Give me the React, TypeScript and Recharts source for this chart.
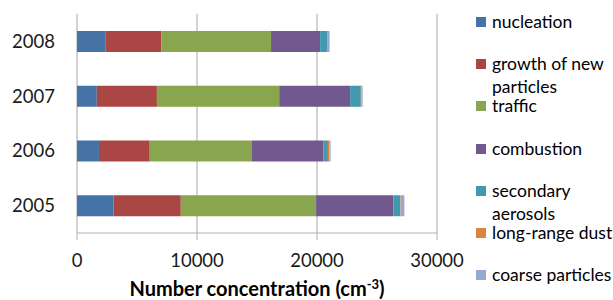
import React from 'react';
import { Bar, BarChart, CartesianGrid, Legend, XAxis, YAxis } from 'recharts';

// Years and the seven source contributions (number concentration, cm-3)
const years = ['2005', '2006', '2007', '2008'];
const nucleation = [3050, 1830, 1650, 2360];
const growth = [5600, 4230, 5010, 4680];
const traffic = [11280, 8520, 10190, 9130];
const combustion = [6430, 5960, 5910, 4090];
const secondary = [580, 370, 890, 620];
const dust = [40, 110, 70, 20];
const coarse = [300, 110, 80, 150];
const xTicks = [0, 10000, 20000, 30000];
const bandEdges = [0, 1, 2, 3, 4];

const series = [
  { key: 'nucleation', name: 'nucleation', values: nucleation, color: '#4572A7' },
  { key: 'growth', name: 'growth of new particles', values: growth, color: '#AA4643' },
  { key: 'traffic', name: 'traffic', values: traffic, color: '#89A54E' },
  { key: 'combustion', name: 'combustion', values: combustion, color: '#71588F' },
  { key: 'secondary', name: 'secondary aerosols', values: secondary, color: '#4198AF' },
  { key: 'dust', name: 'long-range dust', values: dust, color: '#DB843D' },
  { key: 'coarse', name: 'coarse particles', values: coarse, color: '#93A9CF' },
];

const data = years.map((year, i) => {
  const row: Record<string, string | number> = { year };
  series.forEach((s) => {
    row[s.key] = s.values[i];
  });
  return row;
});

const FONT = 'Lato, "Open Sans", sans-serif';
const AXIS_GRAY = '#b3b3b3';

const seriesOrder = (name: string) => series.findIndex((s) => s.name === name);

const renderLegend = (props: any) => {
  const items = [...(props.payload || [])].sort((a: any, b: any) => seriesOrder(a.value) - seriesOrder(b.value));
  return (
    <div style={{ fontFamily: FONT, fontSize: 17.5, lineHeight: '23px', color: '#000' }}>
      {items.map((entry: any) => (
        <div key={entry.value} style={{ display: 'flex', alignItems: 'flex-start', height: 42.2 }}>
          <span
            style={{
              width: 10,
              height: 10,
              background: entry.color,
              marginTop: 7,
              marginRight: 6,
              flexShrink: 0,
            }}
          />
          <span style={{ width: 121 }}>{entry.value}</span>
        </div>
      ))}
    </div>
  );
};

const AxisTitle = (props: any) => {
  const { viewBox } = props;
  const cx = viewBox.x + viewBox.width / 2;
  const y = viewBox.y + viewBox.height - 4;
  return (
    <text x={cx} y={y} textAnchor="middle" fontFamily={FONT} fontWeight="bold" fontSize={20} fill="#000">
      Number concentration (cm
      <tspan dy={-7} fontSize={13}>-3</tspan>
      <tspan dy={7}>)</tspan>
    </text>
  );
};

export default function App() {
  return (
    <div style={{ position: 'absolute', left: 0, top: 0, width: 613, height: 300, background: '#fff' }}>
      <BarChart
        width={613}
        height={300}
        data={data}
        layout="vertical"
        margin={{ top: 14, right: 176, bottom: 0, left: 0 }}
      >
        <CartesianGrid horizontal={false} stroke="#c4c4c4" strokeWidth={1.5} yAxisId="cat" />
        <YAxis
          yAxisId="edge"
          type="number"
          domain={[0, 4]}
          ticks={bandEdges}
          tick={false}
          tickSize={8}
          width={0}
          stroke={AXIS_GRAY}
          axisLine={{ stroke: AXIS_GRAY }}
          tickLine={{ stroke: AXIS_GRAY }}
        />
        <YAxis
          yAxisId="cat"
          type="category"
          dataKey="year"
          reversed
          width={77}
          axisLine={false}
          tickLine={false}
          tickSize={0}
          tickMargin={22}
          tick={{ fill: '#1a1a1a', fontSize: 18.5, fontFamily: FONT }}
        />
        <XAxis
          type="number"
          domain={[0, 30000]}
          ticks={xTicks}
          height={67}
          tickSize={7}
          tickMargin={14}
          axisLine={{ stroke: AXIS_GRAY }}
          tickLine={{ stroke: AXIS_GRAY }}
          tick={{ fill: '#1a1a1a', fontSize: 18.5, fontFamily: FONT }}
          label={<AxisTitle />}
        />
        <Legend
          layout="vertical"
          align="center"
          verticalAlign="middle"
          content={renderLegend}
          wrapperStyle={{ position: 'absolute', left: 476, top: 10, width: 137, height: 290 }}
        />
        {series.map((s) => (
          <Bar
            key={s.key}
            dataKey={s.key}
            name={s.name}
            stackId="a"
            yAxisId="cat"
            fill={s.color}
            barSize={21}
            isAnimationActive={false}
          />
        ))}
      </BarChart>
    </div>
  );
}
